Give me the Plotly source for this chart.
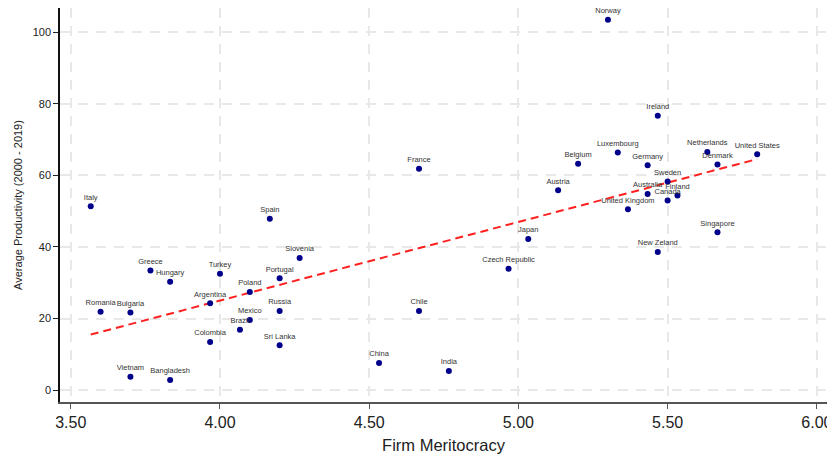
import numpy as np
import plotly.graph_objects as go

countries = ["Italy", "Romania", "Bulgaria", "Vietnam", "Greece", "Hungary", "Bangladesh",
             "Argentina", "Colombia", "Turkey", "Brazil", "Poland", "Mexico", "Spain",
             "Portugal", "Russia", "Sri Lanka", "Slovenia", "China", "Chile", "France",
             "India", "Czech Republic", "Japan", "Austria", "Belgium", "Norway", "Luxembourg",
             "United Kingdom", "Germany", "Australia", "Ireland", "New Zeland", "Sweden",
             "Canada", "Finland", "Netherlands", "Denmark", "Singapore", "United States"]
meritocracy = [3.567, 3.600, 3.700, 3.700, 3.767, 3.833, 3.833,
               3.967, 3.967, 4.000, 4.067, 4.100, 4.100, 4.167,
               4.200, 4.200, 4.200, 4.267, 4.533, 4.667, 4.667,
               4.767, 4.967, 5.033, 5.133, 5.200, 5.300, 5.333,
               5.367, 5.433, 5.433, 5.467, 5.467, 5.500,
               5.500, 5.533, 5.633, 5.667, 5.667, 5.800]
productivity = [51.4, 21.9, 21.7, 3.8, 33.4, 30.3, 2.9,
                24.3, 13.5, 32.5, 16.9, 27.4, 19.6, 47.9,
                31.3, 22.1, 12.6, 36.9, 7.6, 22.1, 61.8,
                5.4, 33.9, 42.2, 55.8, 63.2, 103.4, 66.4,
                50.5, 62.8, 54.8, 76.6, 38.6, 58.3,
                53.0, 54.4, 66.5, 63.0, 44.1, 65.9]
x_ticks = [3.5, 4.0, 4.5, 5.0, 5.5, 6.0]
y_ticks = [0, 20, 40, 60, 80, 100]

xa = np.array(meritocracy)
ya = np.array(productivity)
slope, intercept = np.polyfit(xa, ya, 1)
fit_x = [xa.min(), xa.max()]
fit_y = [intercept + slope * v for v in fit_x]

fig = go.Figure()
fig.add_trace(go.Scatter(
    x=fit_x, y=fit_y, mode="lines",
    line=dict(color="#ff2020", width=2, dash="8px,5px"),
    hoverinfo="skip", showlegend=False))
fig.add_trace(go.Scatter(
    x=meritocracy, y=productivity, mode="markers+text",
    text=countries, textposition="top center", cliponaxis=False,
    textfont=dict(family="Liberation Sans, Arial, sans-serif", size=7.5, color="#333333"),
    marker=dict(color="#00008b", size=6),
    showlegend=False))

# the page body has an 8px default margin, so the figure is sized to fit after it
fig.update_layout(
    width=827, height=446,
    margin=dict(l=52, r=8, t=0, b=52),
    paper_bgcolor="white", plot_bgcolor="white",
    font=dict(family="Liberation Sans, Arial, sans-serif", color="#222222"),
)
fig.update_xaxes(
    range=[3.464, 6.034], tickvals=x_ticks, tickformat=".2f", automargin=False,
    tickfont=dict(size=16), ticks="outside", ticklen=5, tickcolor="#555555",
    showline=True, linecolor="#555555", linewidth=1.5,
    showgrid=True, gridcolor="#e8e8e8", griddash="10px,8px", gridwidth=1.5,
    zeroline=False,
    title=dict(text="Firm Meritocracy", font=dict(size=16.5), standoff=14))
fig.update_yaxes(
    range=[-3.27, 106.7], tickvals=y_ticks, automargin=False,
    tickfont=dict(size=11), ticks="outside", ticklen=5, tickcolor="#222222",
    showline=True, linecolor="#111111", linewidth=1.5,
    showgrid=True, gridcolor="#e8e8e8", griddash="10px,8px", gridwidth=1.5,
    zeroline=False,
    title=dict(text="Average Productivity (2000 - 2019)", font=dict(size=11), standoff=8))

fig.write_html("out.html")
